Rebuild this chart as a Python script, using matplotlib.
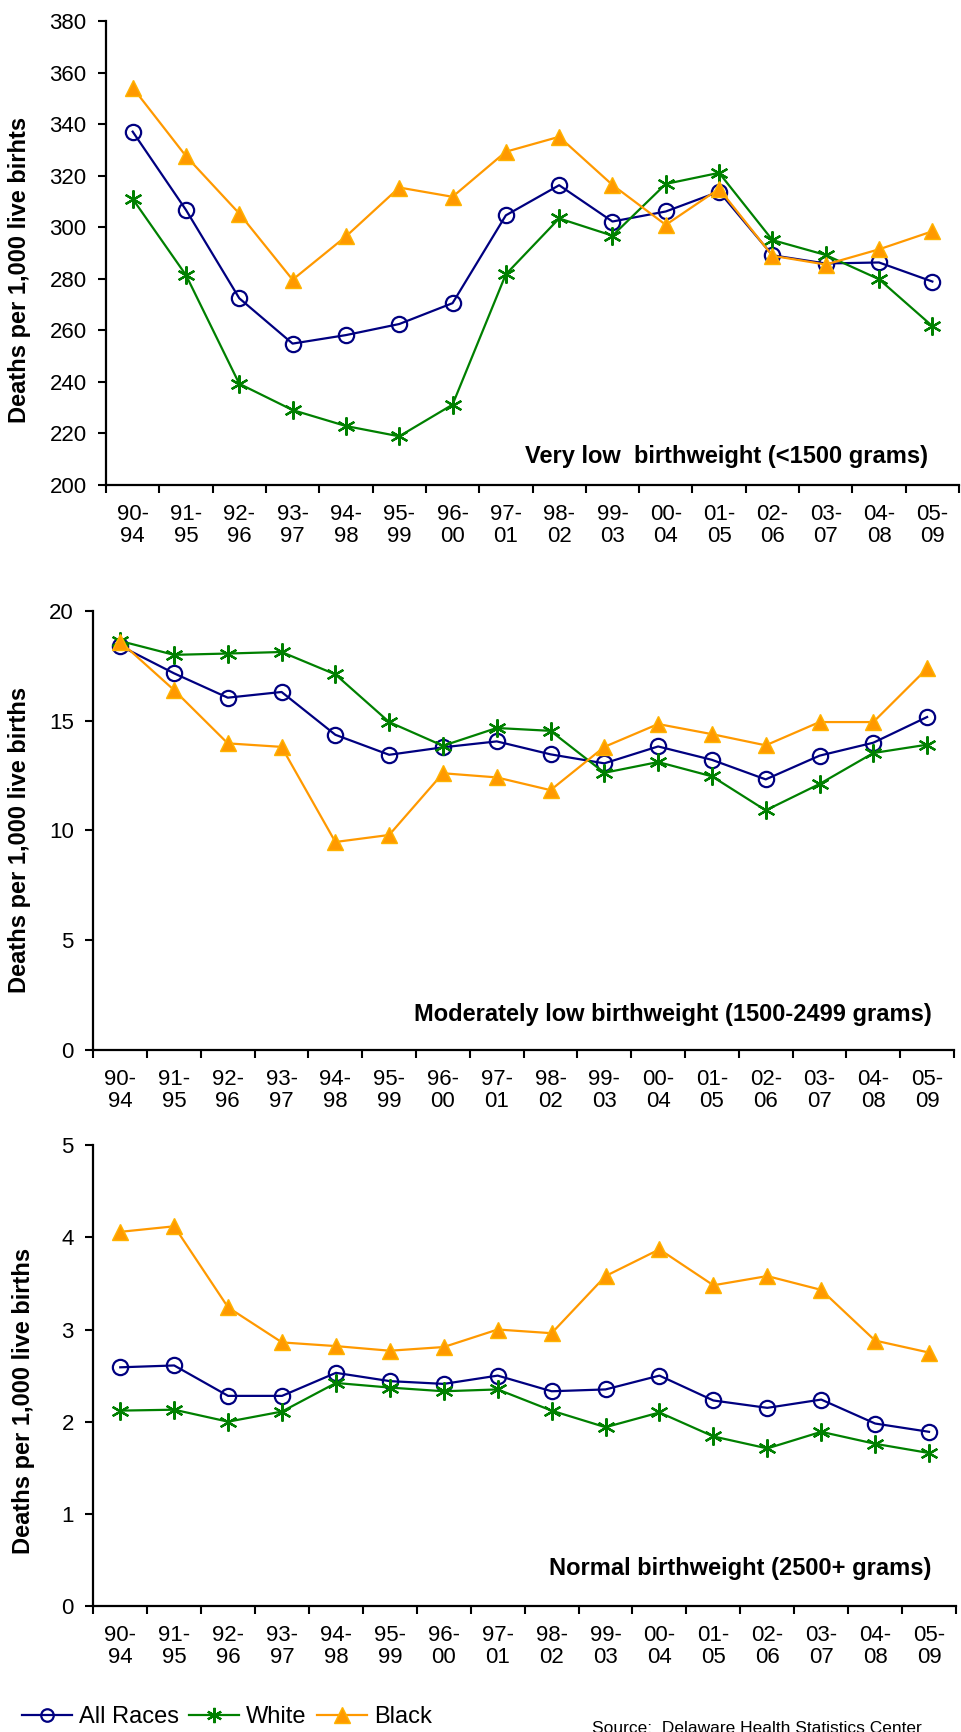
import matplotlib
matplotlib.use('Agg')
import matplotlib.pyplot as plt
from matplotlib.lines import Line2D

plt.rcParams['font.family'] = ['Liberation Sans', 'DejaVu Sans']

periods = ['90-\n94', '91-\n95', '92-\n96', '93-\n97', '94-\n98', '95-\n99', '96-\n00', '97-\n01',
           '98-\n02', '99-\n03', '00-\n04', '01-\n05', '02-\n06', '03-\n07', '04-\n08', '05-\n09']

# Very low birthweight (<1500 grams)
vlbw_all = [337.2, 306.8, 272.5, 254.9, 258.2, 262.5, 270.6, 304.7,
            316.4, 302.3, 306.2, 313.9, 289.2, 286.0, 286.4, 279.0]
vlbw_white = [311.1, 281.5, 239.3, 229.1, 222.9, 218.9, 231.2, 281.8,
              303.5, 296.8, 316.9, 321.2, 295.1, 289.3, 279.9, 261.7]
vlbw_black = [354.3, 327.7, 305.4, 279.7, 296.5, 315.5, 311.9, 329.4,
              335.2, 316.5, 301.0, 315.0, 289.0, 285.6, 291.5, 298.5]

# Moderately low birthweight (1500-2499 grams)
mlbw_all = [18.40, 17.15, 16.04, 16.30, 14.35, 13.44, 13.78, 14.05,
            13.46, 13.05, 13.82, 13.21, 12.32, 13.40, 13.99, 15.16]
mlbw_white = [18.62, 17.99, 18.05, 18.12, 17.10, 14.93, 13.85, 14.66,
              14.53, 12.62, 13.11, 12.46, 10.91, 12.11, 13.52, 13.90]
mlbw_black = [18.59, 16.39, 13.96, 13.80, 9.47, 9.79, 12.60, 12.41,
              11.83, 13.80, 14.84, 14.38, 13.87, 14.93, 14.93, 17.37]

# Normal birthweight (2500+ grams)
nbw_all = [2.59, 2.61, 2.28, 2.28, 2.53, 2.44, 2.41, 2.50,
           2.33, 2.35, 2.50, 2.23, 2.15, 2.24, 1.98, 1.89]
nbw_white = [2.12, 2.13, 2.00, 2.11, 2.42, 2.37, 2.33, 2.35,
             2.12, 1.94, 2.10, 1.84, 1.71, 1.89, 1.76, 1.66]
nbw_black = [4.06, 4.12, 3.24, 2.86, 2.82, 2.77, 2.81, 3.00,
             2.96, 3.58, 3.87, 3.48, 3.58, 3.43, 2.88, 2.75]

W, H = 961, 1732
fig = plt.figure(figsize=(W / 100, H / 100), dpi=100)

navy, green, orange = '#000080', '#008000', '#FF9900'
star = (6, 2, 0)


def px_axes(left, top, right, bottom):
    return fig.add_axes([left / W, 1 - bottom / H, (right - left) / W, (bottom - top) / H])


def draw(ax, a, w, b, ylim, yticks):
    x = [i + 0.5 for i in range(len(periods))]
    ax.plot(x, a, color=navy, lw=1.6, marker='o', ms=11, mfc='none', mec=navy, mew=1.6, clip_on=False)
    ax.plot(x, w, color=green, lw=1.6, marker=star, ms=13, mec=green, mew=1.6, clip_on=False)
    ax.plot(x, b, color=orange, lw=1.6, marker='^', ms=12, mfc=orange, mec='#FFB300', mew=1, clip_on=False)
    ax.set_xlim(0, len(periods))
    ax.set_ylim(*ylim)
    ax.set_yticks(yticks)
    ax.set_xticks(range(len(periods) + 1))
    ax.set_xticklabels([])
    ax.set_xticks(x, minor=True)
    ax.set_xticklabels(periods, minor=True, fontsize=16, linespacing=1.05)
    ax.tick_params(axis='x', which='minor', length=0, pad=14)
    ax.tick_params(axis='x', which='major', length=6, width=1.5, direction='out')
    ax.tick_params(axis='y', length=6, width=1.5, direction='out', labelsize=16, pad=8)
    for s in ['top', 'right']:
        ax.spines[s].set_visible(False)
    for s in ['left', 'bottom']:
        ax.spines[s].set_linewidth(1.6)


ax1 = px_axes(106, 21.4, 959, 485)
draw(ax1, vlbw_all, vlbw_white, vlbw_black, (200, 380), range(200, 381, 20))
ax2 = px_axes(93.3, 610.7, 954, 1050)
draw(ax2, mlbw_all, mlbw_white, mlbw_black, (0, 20), range(0, 21, 5))
ax3 = px_axes(93.3, 1145.2, 956, 1606)
draw(ax3, nbw_all, nbw_white, nbw_black, (0, 5), range(0, 6))

# y labels
fig.text(20 / W, 1 - 270 / H, 'Deaths per 1,000 live birhts', rotation=90, ha='center', va='center',
         fontsize=17, fontweight='bold')
fig.text(20 / W, 1 - 840 / H, 'Deaths per 1,000 live births', rotation=90, ha='center', va='center',
         fontsize=17, fontweight='bold')
fig.text(23.7 / W, 1 - 1401 / H, 'Deaths per 1,000 live births', rotation=90, ha='center', va='center',
         fontsize=17, fontweight='bold')

# panel titles
fig.text(928 / W, 1 - 456 / H, 'Very low  birthweight (<1500 grams)', ha='right', va='center',
         fontsize=17, fontweight='bold')
fig.text(932 / W, 1 - 1015 / H, 'Moderately low birthweight (1500-2499 grams)', ha='right', va='center',
         fontsize=17, fontweight='bold')
fig.text(931 / W, 1 - 1569 / H, 'Normal birthweight (2500+ grams)', ha='right', va='center',
         fontsize=17, fontweight='bold')

handles = [
    Line2D([], [], color=navy, lw=1.6, marker='o', ms=9, mfc='none', mec=navy, mew=1.6),
    Line2D([], [], color=green, lw=1.6, marker=star, ms=11, mec=green, mew=1.6),
    Line2D([], [], color=orange, lw=1.6, marker='^', ms=11, mfc=orange, mec='#FFB300', mew=1),
]
fig.legend(handles, ['All Races', 'White', 'Black'], loc='center left',
           bbox_to_anchor=(22 / W, 1 - 1717 / H), ncol=3, frameon=False, fontsize=17,
           handlelength=2.1, handletextpad=0.3, columnspacing=0.45, borderpad=0, borderaxespad=0)

fig.text(592 / W, 1 - 1721 / H, 'Source:  Delaware Health Statistics Center', ha='left', va='top',
         fontsize=12.5)

fig.savefig('out.png', dpi=100)
